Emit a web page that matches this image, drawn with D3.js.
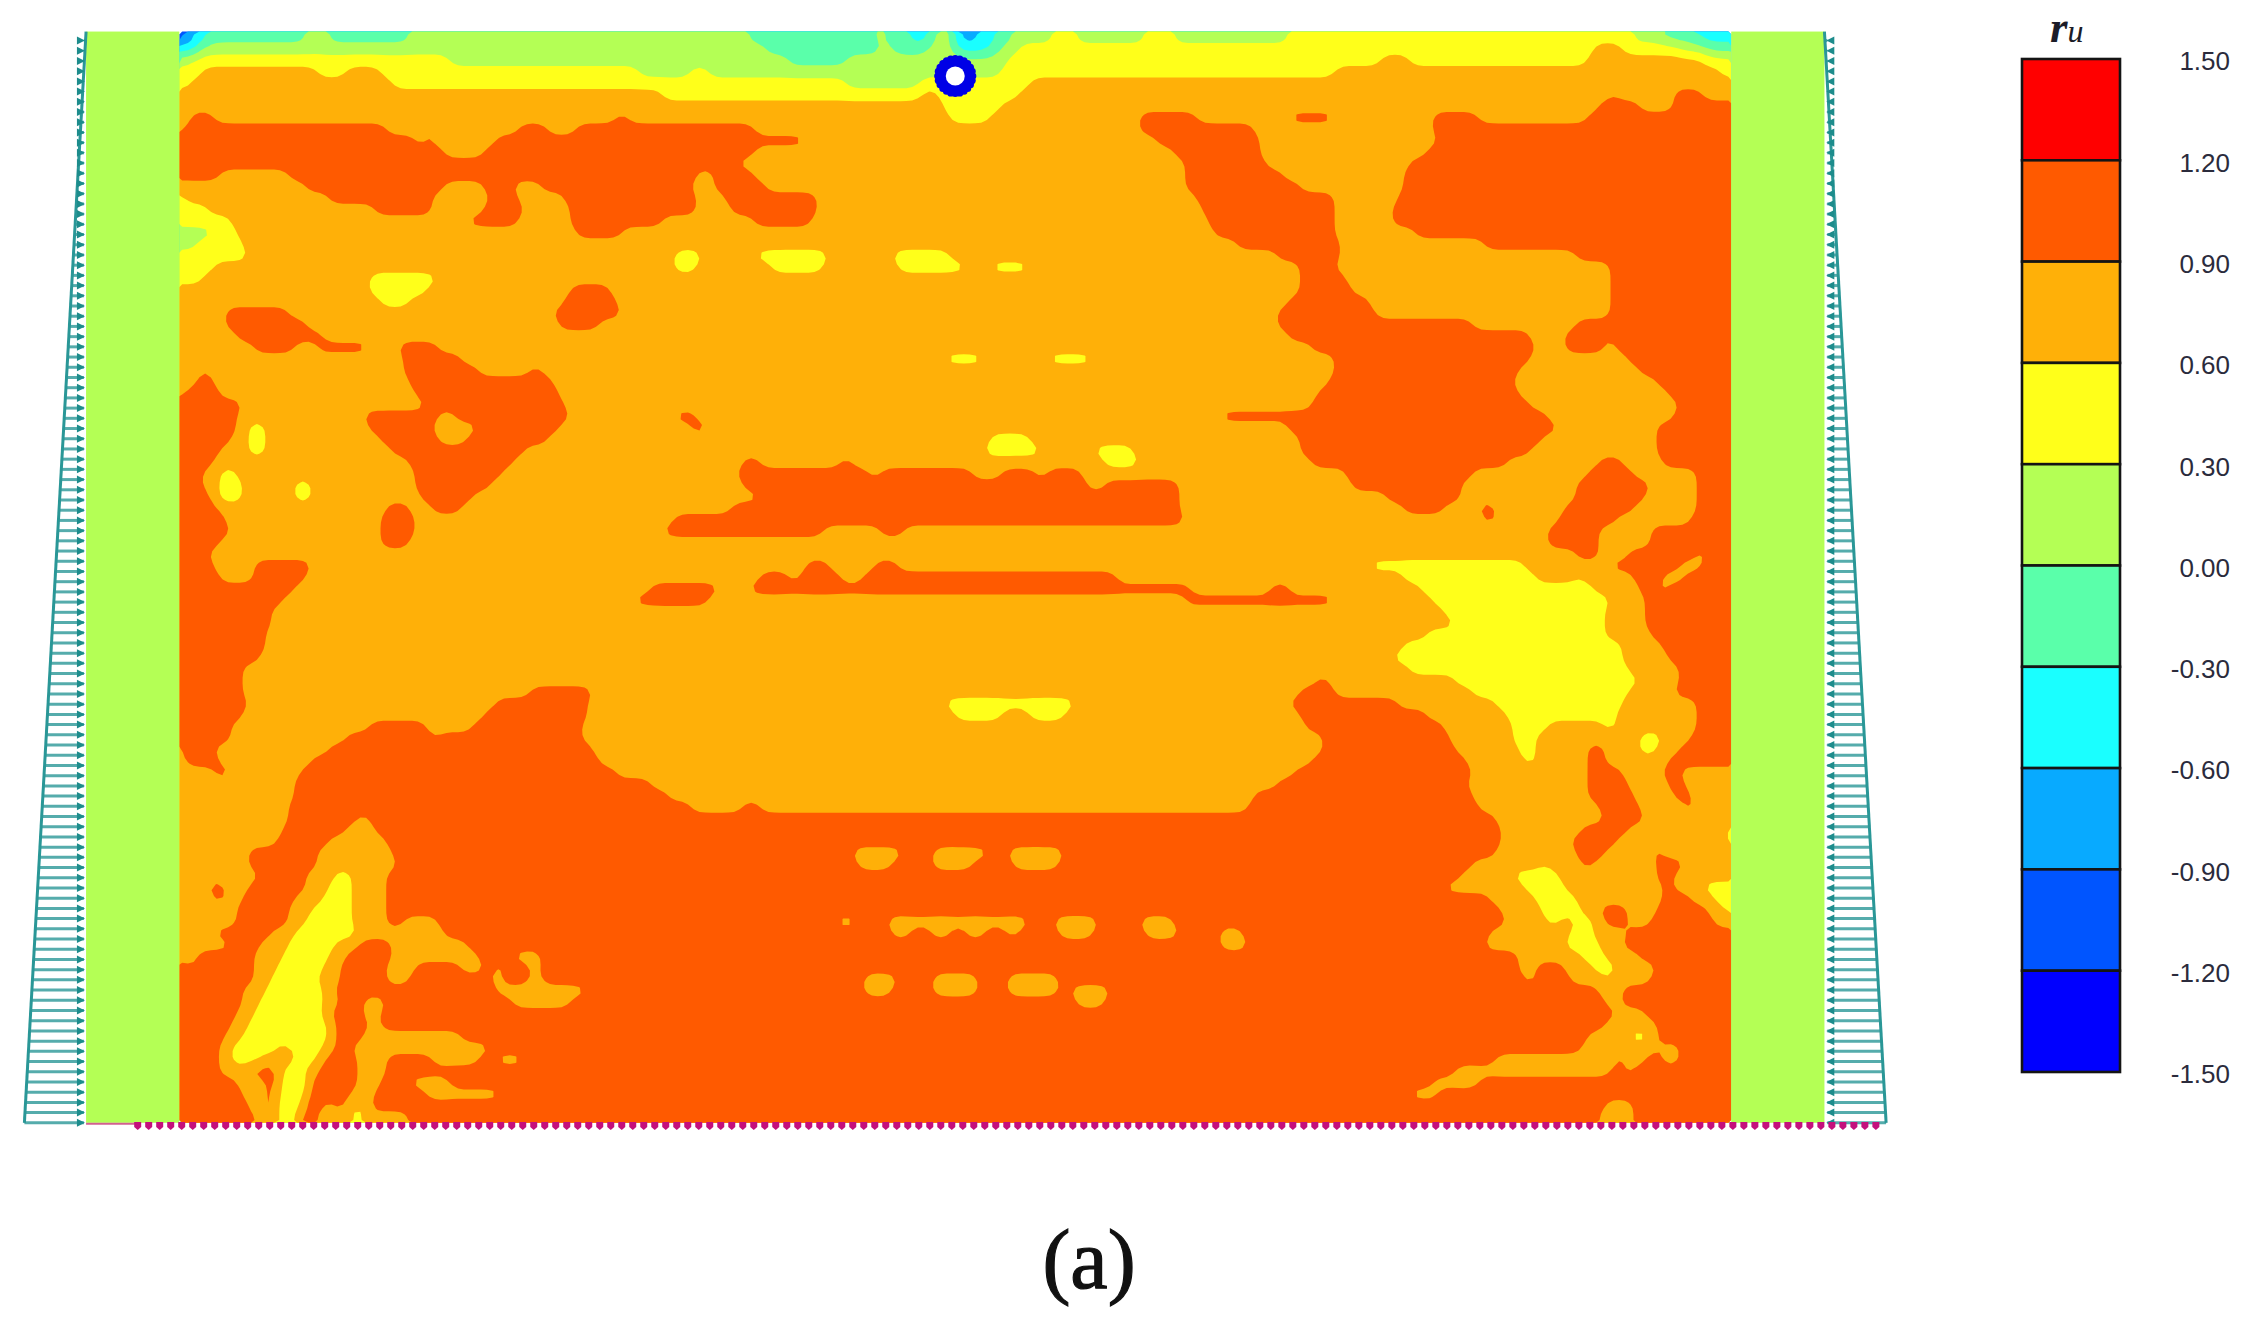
<!DOCTYPE html>
<html>
<head>
<meta charset="utf-8">
<style>
  html, body { margin: 0; padding: 0; background: #fff; }
  svg { display: block; }
</style>
<script src="https://cdn.jsdelivr.net/npm/d3@7"></script>
</head>
<body>
<svg width="2249" height="1325"></svg>
<script>
// colour bands, lowest ru first
const bandColors = ["#0000ff", "#0055ff", "#08aaff", "#1affff", "#5affaa", "#b4ff55", "#ffff1a", "#ffb008", "#ff5a00", "#ff0000"];
const ruTicks = [-1.5, -1.2, -0.9, -0.6, -0.3, 0, 0.3, 0.6, 0.9, 1.2, 1.5];

// model extent of the excess pore pressure field (one row per 8 units of depth)
const modelX = [125, 1207];
const modelY = [22, 783];
const wallX = [60, 1272];

// each row: "band:xEnd" runs, left to right
const ruRows = [
"1:132 3:145 4:212 5:228 4:285 5:523 4:608 5:618 4:635 3:650 5:668 2:682 3:695 4:705 5:735 6:752 5:798 6:820 5:900 6:1138 5:1158 4:1182 3:1207",
"3:137 4:143 5:535 4:612 5:622 4:645 5:668 3:690 4:700 5:712 6:1110 7:1130 6:1172 5:1192 4:1207",
"5:133 6:315 5:548 4:590 5:703 6:962 7:982 6:1105 7:1187 6:1207",
"6:142 7:222 6:243 7:265 6:445 5:483 6:495 5:697 6:930 7:1200 6:1207",
"6:132 7:272 6:590 5:640 6:718 7:1207",
"7:460 6:640 7:655 6:712 7:1123 8:1128 7:1167 8:1188 7:1207",
"7:657 6:698 7:1115 8:1142 7:1167 8:1207",
"7:132 8:150 7:428 8:438 7:660 6:690 7:795 8:835 7:898 8:930 7:997 8:1030 7:1106 8:1207",
"7:130 8:270 7:299 8:304 7:360 8:380 7:400 8:525 7:793 8:873 7:1000 8:1207",
"8:290 7:296 8:302 7:345 8:562 7:805 8:877 7:1002 8:1207",
"8:311 7:337 8:524 7:820 8:880 7:995 8:1207",
"8:512 7:828 8:884 7:981 8:1207",
"8:155 7:200 8:486 7:498 8:526 7:827 8:893 7:979 8:1207",
"7:213 8:310 7:338 8:358 7:377 8:482 7:497 8:532 7:826 8:905 7:978 8:1207",
"6:130 7:230 8:301 7:342 8:360 7:393 8:484 7:505 8:571 7:836 8:932 7:975 8:1207",
"6:146 7:260 8:300 7:336 8:366 7:396 8:485 7:510 8:571 7:840 8:932 7:971 8:1207",
"6:160 7:325 8:363 7:398 8:462 7:525 8:567 7:843 8:932 7:970 8:1207",
"5:150 6:166 7:402 8:432 7:848 8:932 7:987 8:1207",
"5:139 6:170 7:862 8:935 7:1033 8:1207",
"5:127 6:172 7:470 6:488 7:526 6:578 7:623 6:660 7:890 8:933 7:1100 8:1207",
"6:148 7:470 6:486 7:537 6:572 7:625 6:674 7:690 6:720 7:906 8:931 7:1122 8:1207",
"6:142 7:257 6:306 7:908 8:937 7:1123 8:1207",
"7:256 6:298 7:398 8:424 7:905 8:941 7:1124 8:1207",
"7:266 6:285 7:393 8:431 7:897 8:955 7:1123 8:1207",
"7:156 8:201 7:386 8:435 7:889 8:960 7:1122 8:1207",
"7:157 8:213 7:389 8:418 7:891 8:1027 7:1097 8:1207",
"7:165 8:225 7:900 8:1067 7:1090 8:1118 7:1122 8:1207",
"7:178 8:205 7:222 8:258 7:278 8:305 7:915 8:1072 7:1090 8:1119 7:1127 8:1207",
"7:141 8:147 7:280 8:322 7:658 6:686 7:730 6:761 7:931 8:1065 7:1135 8:1207",
"7:140 8:147 7:282 8:335 7:370 8:376 7:931 8:1057 7:1143 8:1207",
"7:138 8:148 7:285 8:384 7:926 8:1055 7:1153 8:1207",
"7:131 8:155 7:178 8:187 7:290 8:391 7:919 8:1060 7:1163 8:1207",
"8:170 7:296 8:394 7:913 8:1068 7:1172 8:1207",
"8:165 7:255 8:305 7:318 8:396 7:470 8:487 7:849 8:1080 7:1166 8:1207",
"8:164 7:174 6:187 7:258 8:302 7:334 8:390 7:482 8:493 7:899 8:1085 7:1155 8:1207",
"8:161 7:175 6:186 7:267 8:305 7:325 8:382 7:692 6:720 7:906 8:1075 7:1153 8:1207",
"8:152 7:175 6:185 7:275 8:365 7:686 6:726 7:763 6:792 7:908 8:1066 7:1153 8:1207",
"8:150 7:285 8:356 7:516 8:530 7:585 8:592 7:770 6:793 7:915 8:1050 7:1115 8:1132 7:1157 8:1207",
"8:143 7:153 6:167 7:288 8:350 7:513 8:606 7:614 8:680 7:697 8:722 7:730 8:753 7:938 8:1026 7:1108 8:1139 7:1182 8:1207",
"8:143 7:152 6:170 7:205 6:219 7:289 8:343 7:519 8:760 7:769 8:821 7:943 8:1020 7:1098 8:1122 7:1131 8:1150 7:1183 8:1207",
"8:148 7:150 6:170 7:205 6:219 7:294 8:328 7:529 8:821 7:968 8:1017 7:1098 8:1145 7:1183 8:1207",
"8:153 7:268 8:286 7:302 8:320 7:508 8:824 7:979 8:1008 7:1030 8:1044 7:1090 8:1140 7:1182 8:1207",
"8:157 7:265 8:290 7:470 8:827 7:1033 8:1042 7:1085 8:1125 7:1179 8:1207",
"8:162 7:264 8:290 7:462 8:572 7:612 8:628 7:1080 8:1115 7:1152 8:1207",
"8:155 7:267 8:287 7:1079 8:1114 7:1122 6:1132 7:1150 8:1207",
"8:147 7:222 8:235 7:1098 8:1114 7:1135 8:1183 7:1191 8:1207",
"8:148 7:178 8:218 7:562 8:576 7:608 8:624 7:955 6:1064 7:1124 8:1172 7:1185 8:1207",
"8:155 7:176 8:214 7:530 8:550 7:557 8:585 7:600 8:780 7:977 6:1070 7:1097 6:1103 7:1137 8:1160 7:1175 8:1207",
"8:204 7:452 8:503 7:520 8:830 7:885 8:897 7:992 6:1112 7:1143 8:1155 7:1163 8:1207",
"8:196 7:412 8:423 7:442 8:495 7:825 8:930 7:999 6:1122 7:1148 8:1207",
"8:190 7:1007 6:1119 7:1148 8:1207",
"8:188 7:1014 6:1117 7:1148 8:1207",
"8:186 7:773 6:788 7:995 6:1120 7:1152 8:1207",
"8:185 7:978 6:1130 7:1160 8:1207",
"8:180 7:970 6:1132 7:1164 8:1207",
"8:170 7:984 6:1134 7:1172 8:1207",
"8:168 7:918 8:925 7:1014 6:1143 7:1169 8:1207",
"8:171 7:370 8:414 7:905 8:932 7:1025 6:1134 7:1166 8:1207",
"8:173 7:345 8:411 7:656 6:705 7:708 6:750 7:900 8:975 7:1042 6:1130 7:1182 8:1207",
"8:168 7:336 8:410 7:668 6:698 7:720 6:744 7:908 8:996 7:1050 6:1126 7:1183 8:1207",
"8:163 7:258 8:298 7:328 8:407 7:911 8:1006 7:1056 6:1078 7:1118 6:1127 7:1184 8:1207",
"8:161 7:243 8:300 7:306 8:406 7:921 8:1009 7:1056 6:1071 7:1141 6:1157 7:1180 8:1207",
"7:128 8:150 7:228 8:413 7:921 8:1013 7:1059 6:1070 7:1106 8:1119 7:1143 6:1155 7:1172 8:1207",
"7:131 8:155 7:217 8:419 7:915 8:1022 7:1061 6:1070 7:1107 8:1120 7:1161 8:1207",
"7:150 8:160 7:209 8:428 7:902 8:1025 7:1106 8:1132 7:1157 8:1171 7:1207",
"7:207 8:452 7:892 8:1024 7:1105 8:1135 7:1162 8:1174 7:1207",
"7:204 8:464 7:876 8:1025 7:1108 8:1138 7:1168 8:1177 7:1207",
"7:202 8:482 7:518 8:528 7:872 8:1032 7:1113 8:1142 7:1174 8:1182 7:1207",
"7:203 8:250 7:256 8:1043 7:1120 8:1145 7:1207",
"7:199 8:242 7:262 8:1045 7:1101 8:1136 7:1201 6:1207",
"7:192 8:228 7:270 8:1048 7:1095 8:1127 7:1203 6:1207",
"7:172 8:222 7:275 8:595 7:628 8:648 7:690 8:702 7:743 8:1041 7:1098 8:1118 7:1149 8:1158 7:1207",
"7:173 8:222 7:279 8:598 7:622 8:650 7:680 8:706 7:740 8:1026 7:1075 6:1080 7:1102 8:1110 7:1153 8:1176 7:1207",
"7:180 8:214 7:235 6:245 7:270 8:1017 7:1056 6:1085 7:1126 8:1137 7:1156 8:1166 7:1207",
"7:147 8:157 7:175 8:213 7:230 6:245 7:268 8:1008 7:1064 6:1090 7:1160 8:1166 7:1188 6:1207",
"7:150 8:156 7:170 8:205 7:224 6:246 7:268 8:1040 7:1072 6:1097 7:1159 8:1178 7:1196 6:1207",
"7:165 8:200 7:218 6:246 7:268 8:1048 7:1074 6:1104 7:1115 8:1136 7:1156 8:1190 7:1201 6:1207",
"7:167 8:200 7:212 6:247 7:268 8:282 7:305 8:581 7:596 8:617 7:720 8:736 7:766 8:795 7:820 8:1050 7:1078 6:1088 7:1100 6:1112 7:1118 8:1135 7:1152 8:1193 7:1207",
"7:148 8:189 7:205 6:248 7:311 8:524 7:537 8:620 7:632 8:648 7:660 8:675 7:687 8:702 7:712 8:738 7:762 8:798 7:822 8:850 7:868 8:1038 7:1095 6:1112 7:1135 8:1207",
"7:160 8:181 7:200 6:232 7:248 8:272 7:325 8:852 7:870 8:1036 7:1090 6:1115 7:1132 8:1207",
"7:139 8:179 7:196 6:228 7:243 8:272 7:332 8:358 7:376 8:1058 7:1104 6:1120 7:1142 8:1207",
"8:132 7:137 8:177 7:194 6:225 7:238 8:270 7:289 8:322 7:338 8:346 7:352 8:369 7:377 8:1059 7:1070 8:1091 7:1112 6:1125 7:1153 8:1207",
"8:176 7:190 6:223 7:237 8:270 7:284 8:343 7:351 8:368 7:378 8:600 7:625 8:651 7:684 8:704 7:737 8:1061 7:1069 8:1095 7:1118 6:1123 7:1150 8:1207",
"8:171 7:184 6:224 7:235 8:344 7:410 8:600 7:623 8:651 7:683 8:703 7:738 8:747 7:776 8:1115 7:1132 8:1207",
"8:168 7:180 6:227 7:236 8:252 7:270 8:357 7:398 8:428 7:436 8:752 7:770 8:1119 7:1129 8:1207",
"8:166 7:177 6:227 7:231 8:254 7:264 8:1128 7:1148 8:1207",
"8:161 7:174 6:229 7:232 8:256 7:267 8:1118 7:1153 8:1207",
"8:157 7:168 6:201 5:213 6:229 7:232 8:255 7:322 8:1106 7:1135 6:1150 7:1153 8:1207",
"8:153 7:163 6:192 7:205 6:226 7:232 8:244 7:340 8:1102 7:1153 8:1160 7:1170 8:1207",
"8:152 7:162 6:182 7:207 6:221 7:226 8:250 7:268 8:302 7:333 8:347 7:365 8:1042 7:1125 8:1135 7:1148 8:1160 7:1170 8:1207",
"8:152 7:172 8:192 7:197 6:213 7:222 8:249 7:268 8:1016 7:1122 8:1131 7:1140 8:1207",
"8:165 7:184 8:192 7:197 6:200 5:208 6:213 7:216 8:248 7:265 8:284 7:312 8:1000 7:1030 8:1207",
"8:168 7:184 8:193 7:196 6:199 5:207 6:212 7:215 8:245 7:262 8:297 7:350 8:984 7:1003 8:1207",
"8:172 7:185 8:193 7:195 6:198 5:202 6:210 7:213 8:224 7:234 8:242 7:245 6:253 7:258 8:1118 7:1137 8:1207",
"8:177 7:185 8:193 7:195 6:197 5:201 6:205 7:208 8:220 7:245 6:253 7:285 8:1116 7:1138 8:1207"
];

// boundary load at the top and bottom of the side walls
const loadDepths = [22, 783];
const loadLengths = [0, 43];

const svg = d3.select("svg");

const x = d3.scaleLinear().domain([0, 1568]).range([0, 2249]);
const y = d3.scaleLinear().domain([0, 924]).range([0, 1325]);

// band of each grid point, as a mid-band ru value
const nx = 270, ny = ruRows.length * 2;
const colX = d3.scaleLinear().domain([0, nx]).range(modelX);
const gridX = d3.scaleLinear().domain([0, nx]).range([x(modelX[0]), x(modelX[1])]);
const gridY = d3.scaleLinear().domain([0, ny]).range([y(modelY[0]), y(modelY[1])]);

const parsed = ruRows.map(r => r.split(" ").map(s => s.split(":").map(Number)));
const values = new Float64Array(nx * ny);
for (let j = 0; j < ny; j++) {
    const runs = parsed[j >> 1];
    for (let i = 0; i < nx; i++) {
        const cx = colX(i + 0.5);
        const run = runs.find(s => cx < s[1]) || runs[runs.length - 1];
        values[j * nx + i] = ruTicks[run[0]] + 0.15;
    }
}
if (d3.blur2) d3.blur2({data: values, width: nx, height: ny}, 0.4);

const contours = d3.contours().size([nx, ny]).thresholds(ruTicks.slice(1, -1))(Array.from(values));
const path = d3.geoPath(d3.geoTransform({
    point(px, py) { this.stream.point(gridX(px), gridY(py)); }
}));

svg.append("g").attr("class", "field")
    .selectAll("path")
    .data(contours)
    .enter().append("path")
    .attr("d", path)
    .attr("fill", (d, i) => bandColors[i + 1]);

// side walls
const wallColor = bandColors[5];
svg.append("rect")
    .attr("x", x(wallX[0])).attr("y", y(modelY[0]))
    .attr("width", x(modelX[0]) - x(wallX[0])).attr("height", y(modelY[1]) - y(modelY[0]))
    .attr("fill", wallColor);
svg.append("rect")
    .attr("x", x(modelX[1])).attr("y", y(modelY[0]))
    .attr("width", x(wallX[1]) - x(modelX[1])).attr("height", y(modelY[1]) - y(modelY[0]))
    .attr("fill", wallColor);

// tunnel lining
const tunnel = svg.append("g").attr("transform", `translate(${x(666)},${y(53)})`);
tunnel.append("circle").attr("r", 16).attr("fill", "#0000e6");
tunnel.selectAll("circle.bolt")
    .data(d3.range(24))
    .enter().append("circle")
    .attr("class", "bolt")
    .attr("cx", d => 17.5 * Math.cos(d / 24 * 2 * Math.PI))
    .attr("cy", d => 17.5 * Math.sin(d / 24 * 2 * Math.PI))
    .attr("r", 3.6)
    .attr("fill", "#0000e6");
tunnel.append("circle").attr("r", 9.5).attr("fill", "#fff");

// hydrostatic load on both walls
const loadLen = d3.scaleLinear().domain(loadDepths).range(loadLengths);
const loadColor = "#2a9797";
const loadYs = d3.range(loadDepths[1], loadDepths[0], -7.12);

function drawLoad(side) {
    const g = svg.append("g").attr("class", "load");
    const edge = side < 0 ? wallX[0] : wallX[1];
    const head = side < 0 ? edge - 1.5 : edge + 2;
    g.append("line")
        .attr("x1", x(edge)).attr("y1", y(loadDepths[0]))
        .attr("x2", x(edge + side * loadLen(loadDepths[1]))).attr("y2", y(loadDepths[1]))
        .attr("stroke", loadColor).attr("stroke-width", 3);
    g.selectAll("line.arrow")
        .data(loadYs)
        .enter().append("line")
        .attr("class", "arrow")
        .attr("x1", d => x(edge + side * loadLen(d)))
        .attr("x2", x(head))
        .attr("y1", d => y(d)).attr("y2", d => y(d))
        .attr("stroke", loadColor).attr("stroke-width", 3).attr("stroke-opacity", 0.8);
    g.selectAll("path.head")
        .data(loadYs)
        .enter().append("path")
        .attr("class", "head")
        .attr("transform", d => `translate(${x(head)},${y(d)})`)
        .attr("d", side < 0 ? "M-7,-4L1,0L-7,4Z" : "M7,-4L-1,0L7,4Z")
        .attr("fill", "#1d8c8c");
}
drawLoad(-1);
drawLoad(1);

// fixed base
svg.append("line")
    .attr("x1", x(60)).attr("x2", x(96))
    .attr("y1", y(783.6)).attr("y2", y(783.6))
    .attr("stroke", "#d2608f").attr("stroke-width", 2);
svg.append("g").attr("class", "base")
    .selectAll("path")
    .data(d3.range(96, 1312, 7.67))
    .enter().append("path")
    .attr("transform", d => `translate(${x(d)},${y(784.5)})`)
    .attr("d", "M-3.5,-3L3.5,-3L3.5,2L0,5L-3.5,2Z")
    .attr("fill", "#c4107c");

// colour bar
const barX = 2022, barW = 98;
const barY = d3.scaleLinear().domain([1.5, -1.5]).range([59, 1072]);
svg.append("g").attr("class", "bar")
    .selectAll("rect")
    .data(d3.range(9, -1, -1))
    .enter().append("rect")
    .attr("x", barX)
    .attr("y", d => barY(ruTicks[d + 1]))
    .attr("width", barW)
    .attr("height", d => barY(ruTicks[d]) - barY(ruTicks[d + 1]))
    .attr("fill", d => bandColors[d])
    .attr("stroke", "#141414")
    .attr("stroke-width", 2.6);

const barAxis = d3.axisRight(barY)
    .tickValues(ruTicks)
    .tickSize(0)
    .tickFormat(d => d.toFixed(2));
const axisG = svg.append("g")
    .attr("transform", "translate(2230,2.5)")
    .call(barAxis);
axisG.select(".domain").remove();
axisG.selectAll("text")
    .attr("x", 0)
    .attr("text-anchor", "end")
    .attr("font-family", "'Liberation Sans', sans-serif")
    .attr("font-size", 26)
    .attr("fill", "#2b2b3c");

const title = svg.append("text")
    .attr("x", 2050).attr("y", 42)
    .attr("font-family", "'Liberation Serif', serif")
    .attr("font-style", "italic")
    .attr("fill", "#1c1c28");
title.append("tspan").attr("font-size", 45).attr("font-weight", "bold").text("r");
title.append("tspan").attr("font-size", 32).text("u");

svg.append("text")
    .attr("x", 1089).attr("y", 1288)
    .attr("text-anchor", "middle")
    .attr("font-family", "'Liberation Serif', serif")
    .attr("font-size", 84)
    .attr("fill", "#111")
    .attr("stroke", "#111")
    .attr("stroke-width", 1.2)
    .text("(a)");
</script>
</body>
</html>
